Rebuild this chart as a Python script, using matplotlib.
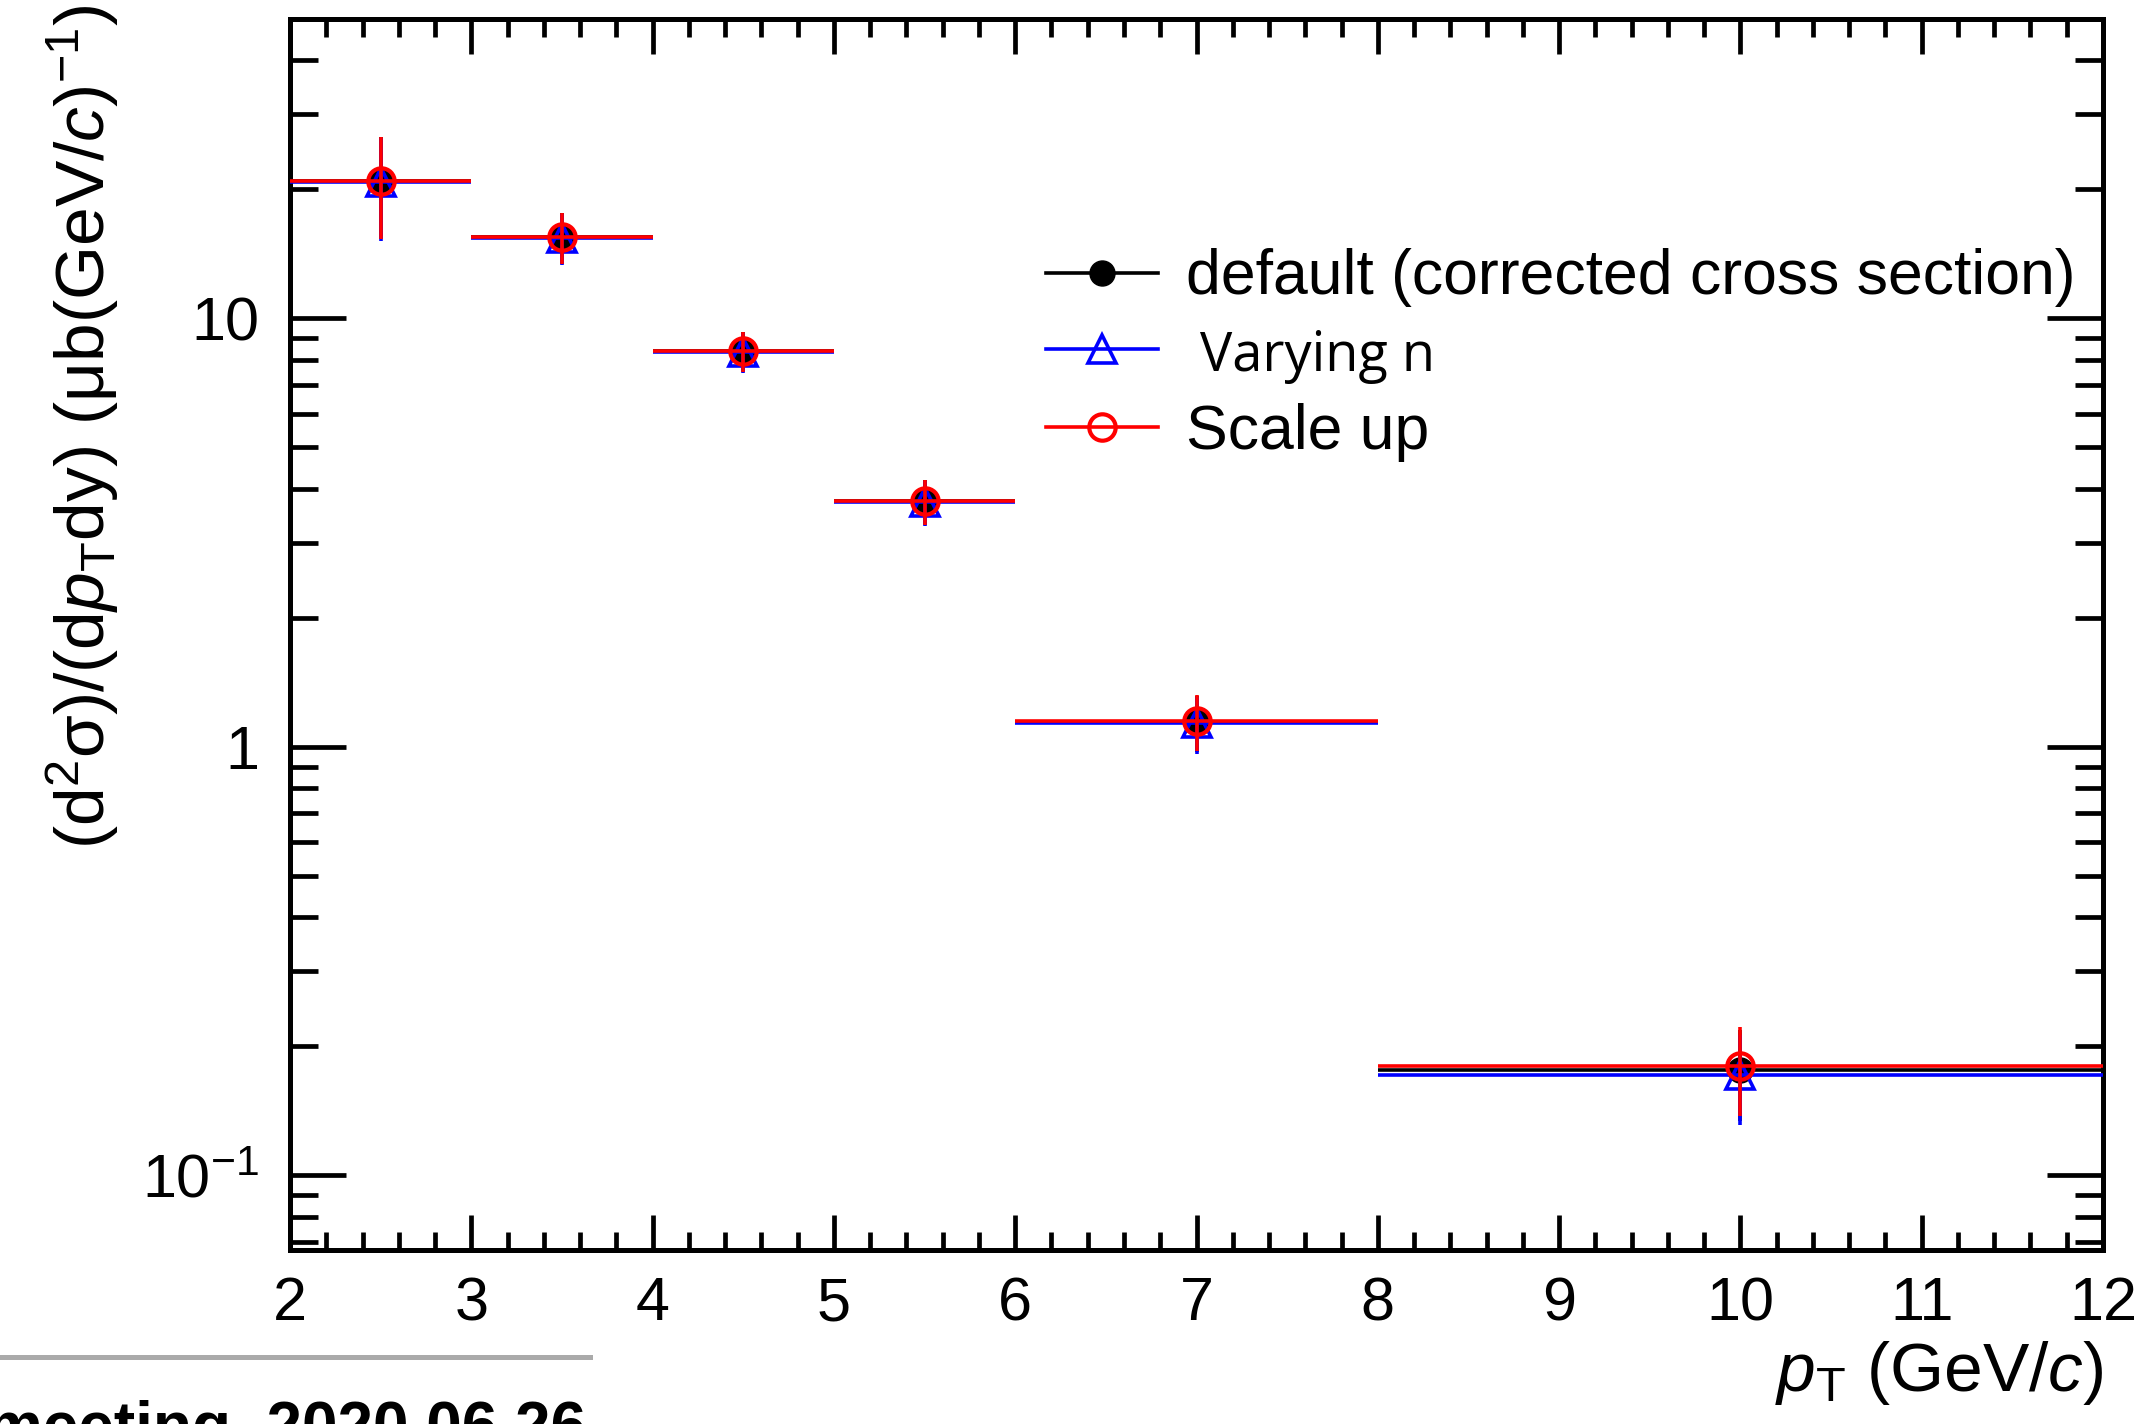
import numpy as np
import matplotlib
matplotlib.use("Agg")
import matplotlib.pyplot as plt
from matplotlib.ticker import MultipleLocator, FixedLocator, FixedFormatter, LogLocator, NullFormatter
from matplotlib.lines import Line2D

plt.rcParams['font.family'] = ['Liberation Sans', 'DejaVu Sans']
plt.rcParams['mathtext.fontset'] = 'custom'
plt.rcParams['mathtext.rm'] = 'Liberation Sans'
plt.rcParams['mathtext.it'] = 'Liberation Sans:italic'
plt.rcParams['mathtext.bf'] = 'Liberation Sans:bold'

# pT bins (centre and half width)
pt = [2.5, 3.5, 4.5, 5.5, 7.0, 10.0]
pt_halfwidth = [0.5, 0.5, 0.5, 0.5, 1.0, 2.0]

# cross sections
default_y = [20.9, 15.5, 8.40, 3.75, 1.145, 0.176]
default_err = [5.6, 2.1, 0.9, 0.45, 0.17, 0.042]

varying_n_y = [20.8, 15.4, 8.34, 3.72, 1.135, 0.172]
varying_n_err = [5.6, 2.1, 0.9, 0.45, 0.17, 0.041]

scale_up_y = [20.9, 15.5, 8.40, 3.75, 1.151, 0.1796]
scale_up_err = [5.6, 2.1, 0.9, 0.45, 0.17, 0.042]

fig = plt.figure(figsize=(21.47, 14.24), dpi=100)
ax = fig.add_axes([0.1351, 0.1222, 0.8444, 0.8645])

ax.errorbar(pt, default_y, xerr=pt_halfwidth, yerr=default_err, fmt='o', color='black',
            ms=18, elinewidth=2.6, capsize=0, zorder=3)
ax.errorbar(pt, varying_n_y, xerr=pt_halfwidth, yerr=varying_n_err, fmt='^', color='blue',
            mfc='none', mec='blue', ms=20, mew=2.6, elinewidth=2.6, capsize=0, zorder=4)
ax.errorbar(pt, scale_up_y, xerr=pt_halfwidth, yerr=scale_up_err, fmt='o', color='red',
            mfc='none', mec='red', ms=19, mew=3, elinewidth=2.6, capsize=0, zorder=5)

ax.set_xlim(2, 12)
ax.set_yscale('log')
ax.set_ylim(0.067, 50)

ax.xaxis.set_major_locator(MultipleLocator(1))
ax.xaxis.set_minor_locator(MultipleLocator(0.2))
ax.yaxis.set_major_locator(FixedLocator([0.1, 1, 10]))
ax.yaxis.set_major_formatter(FixedFormatter(['$10^{-1}$', '1', '10']))
ax.yaxis.set_minor_locator(LogLocator(base=10, subs=np.arange(2, 10)))
ax.yaxis.set_minor_formatter(NullFormatter())

ax.tick_params(axis='both', which='both', direction='in', top=True, right=True, labelsize=44)
ax.tick_params(axis='x', which='major', length=25, width=3.4, pad=19)
ax.tick_params(axis='x', which='minor', length=13, width=3.4)
ax.tick_params(axis='y', which='major', length=40, width=3.4, pad=22)
ax.tick_params(axis='y', which='minor', length=20, width=3.4)
for s in ax.spines.values():
    s.set_linewidth(3.6)

ax.set_xlabel(r'$p_{\rm T}$ (GeV/$c$)', fontsize=50, loc='right', labelpad=4)
ax.set_ylabel(r'(d$^{2}$σ)/(d$p_{\rm T}$dy) (μb(GeV/$c$)$^{-1}$)', fontsize=50, loc='top')
ax.yaxis.set_label_coords(-0.093, 1.012)

handles = [
    Line2D([], [], color='black', marker='o', ms=18, lw=2.6),
    Line2D([], [], color='blue', marker='^', mfc='none', mec='blue', ms=20, mew=2.6, lw=2.6),
    Line2D([], [], color='red', marker='o', mfc='none', mec='red', ms=19, mew=3, lw=2.6),
]
labels = ['default (corrected cross section)', ' Varying n', 'Scale up']
leg = ax.legend(handles, labels, loc='upper left', bbox_to_anchor=(0.4725, 0.8475),
                bbox_transform=fig.transFigure, frameon=False, fontsize=45,
                handlelength=1.8, handletextpad=0.45, labelspacing=0.31, borderpad=0)
leg.get_texts()[1].set_fontfamily('Open Sans')
leg.get_texts()[1].set_fontsize(39)

# slide footer fragment
fig.add_artist(Line2D([0, 0.275], [0.047, 0.047], color='#aaaaaa', lw=3.6,
                      transform=fig.transFigure))
fig.text(0.273, 0.017, 'meeting, 2020.06.26', fontsize=46, fontweight='bold',
         ha='right', va='top')

fig.savefig('out.png', dpi=100)
